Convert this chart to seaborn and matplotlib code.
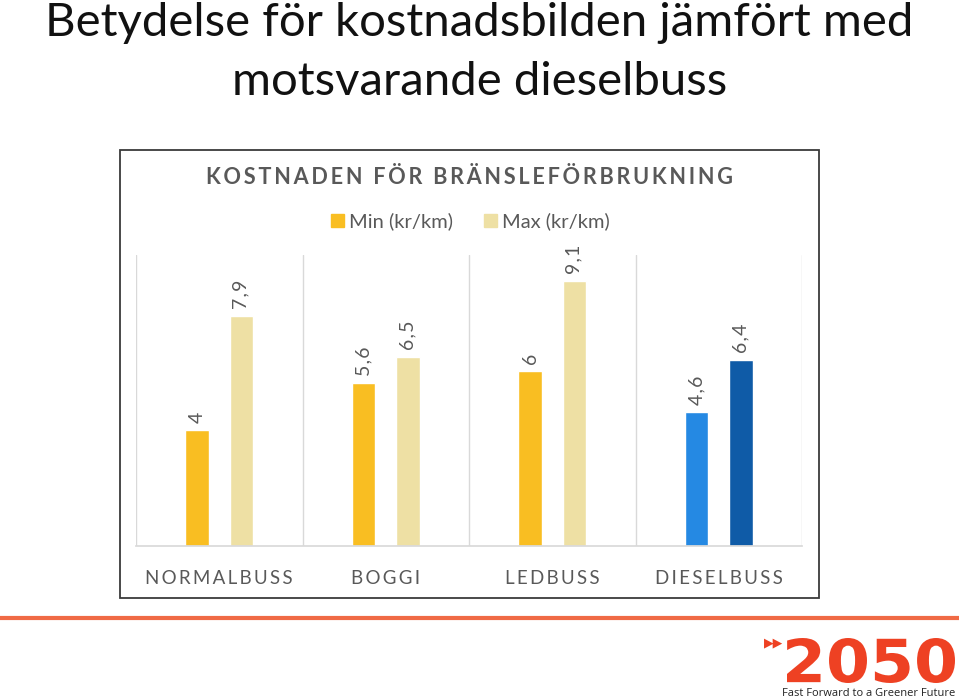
import numpy as np
import pandas as pd
import matplotlib
matplotlib.use("Agg")
import matplotlib.pyplot as plt
from matplotlib.patches import Rectangle, PathPatch
from matplotlib.textpath import TextPath
from matplotlib.font_manager import FontProperties
from matplotlib.transforms import Affine2D
import seaborn as sns

# ── Data ─────────────────────────────────────────────────────────────────────
categories = ["NORMALBUSS", "BOGGI", "LEDBUSS", "DIESELBUSS"]
min_values = [4.0, 5.6, 6.0, 4.6]
max_values = [7.9, 6.5, 9.1, 6.4]
series_names = ["Min (kr/km)", "Max (kr/km)"]

COL_MIN = "#F9BE22"
COL_MAX = "#EEE0A4"
COL_DIESEL_MIN = "#2589E3"
COL_DIESEL_MAX = "#0F5BA7"
GREY_TXT = "#595959"
ORANGE = "#EE4123"
HAIR = "\u200a"


def spaced(s, n=1):
    # fake letter spacing with hair spaces
    return (HAIR * n).join(s)


df = pd.DataFrame({
    "kategori": categories * 2,
    "serie": [series_names[0]] * len(categories) + [series_names[1]] * len(categories),
    "kostnad": min_values + max_values,
})

sns.set_theme(style="white")
plt.rcParams["font.family"] = ["Lato", "DejaVu Sans"]

W, H = 959, 700
fig = plt.figure(figsize=(W / 100, H / 100), dpi=100)
fig.patch.set_facecolor("white")

# slide title
fig.text(0.5, 1 - 36 / H, "Betydelse för kostnadsbilden jämfört med",
         ha="center", va="baseline", fontsize=34, color="#111111")
fig.text(0.5, 1 - 95 / H, "motsvarande dieselbuss",
         ha="center", va="baseline", fontsize=34, color="#111111")

# chart frame
fig.patches.append(Rectangle((120 / W, 1 - 598 / H), 699 / W, 448 / H, transform=fig.transFigure,
                             fill=False, edgecolor="#3A3A3A", linewidth=1.3))

ax = fig.add_axes([136 / W, 1 - 546 / H, 666 / W, 291 / H])
sns.barplot(data=df, x="kategori", y="kostnad", hue="serie",
            palette=[COL_MIN, COL_MAX], width=0.53, gap=0.47, saturation=1,
            ax=ax, legend=False, errorbar=None)

# dieselbuss bars in blue
for cont, col in zip(ax.containers, [COL_DIESEL_MIN, COL_DIESEL_MAX]):
    cont.patches[categories.index("DIESELBUSS")].set_facecolor(col)

for cont in ax.containers:
    labels = [spaced(f"{v:g}".replace(".", ",")) for v in cont.datavalues]
    ax.bar_label(cont, labels=labels, rotation=90, padding=5,
                 fontsize=14, color=GREY_TXT)

ax.set_xlim(-0.5, len(categories) - 0.5)
ax.set_ylim(0, 10)
ax.set_yticks([])
ax.set_xlabel("")
ax.set_ylabel("")
ax.set_xticks(range(len(categories)))
ax.set_xticklabels([spaced(c, 2) for c in categories])
ax.tick_params(axis="x", length=0, pad=17, labelsize=13.5, labelcolor=GREY_TXT)
ax.set_xticks(np.arange(-0.5, len(categories)), minor=True)
ax.grid(False)
ax.grid(True, axis="x", which="minor", color="#D9D9D9", linewidth=1)
ax.tick_params(axis="x", which="minor", length=0)
for side in ["top", "left", "right"]:
    ax.spines[side].set_visible(False)
ax.spines["bottom"].set_color("#D9D9D9")
ax.set_facecolor("none")

# chart title
fig.text(469 / W, 1 - 178 / H, spaced("KOSTNADEN FÖR BRÄNSLEFÖRBRUKNING", 2),
         ha="center", va="center", fontsize=15.6, fontweight="bold", color=GREY_TXT)

# legend
leg_y = 1 - 221 / H
for x0, name, col in [(331, series_names[0], COL_MIN), (484, series_names[1], COL_MAX)]:
    fig.patches.append(Rectangle((x0 / W, leg_y - 6.5 / H), 13 / W, 13 / H,
                                 transform=fig.transFigure, color=col))
    fig.text((x0 + 18) / W, leg_y, name, ha="left", va="center", fontsize=14.5, color=GREY_TXT)

# orange rule
fig.add_artist(plt.Line2D([0, 1], [1 - 618 / H, 1 - 618 / H], transform=fig.transFigure,
                          color="#F06A45", linewidth=3))

# logo: stretch the text path into its box
tp = TextPath((0, 0), "2050", size=1, prop=FontProperties(family="DejaVu Sans", weight="bold"))
ext = tp.get_extents()
x0, x1, ytop, ybot = 787, 955, 638, 683
tr = (Affine2D().translate(-ext.x0, -ext.y0)
      .scale((x1 - x0) / W / ext.width, (ybot - ytop) / H / ext.height)
      .translate(x0 / W, 1 - ybot / H))
fig.patches.append(PathPatch(tr.transform_path(tp), transform=fig.transFigure,
                             facecolor=ORANGE, edgecolor="none"))
fig.text(764 / W, 1 - 643 / H, "▶▶", ha="left", va="center", fontsize=9, color=ORANGE,
         family="DejaVu Sans")
fig.text(955 / W, 1 - 693 / H, "Fast Forward to a Greener Future", ha="right", va="center",
         fontsize=8, color="#222222", family="Open Sans")

fig.savefig("out.png", dpi=100)
